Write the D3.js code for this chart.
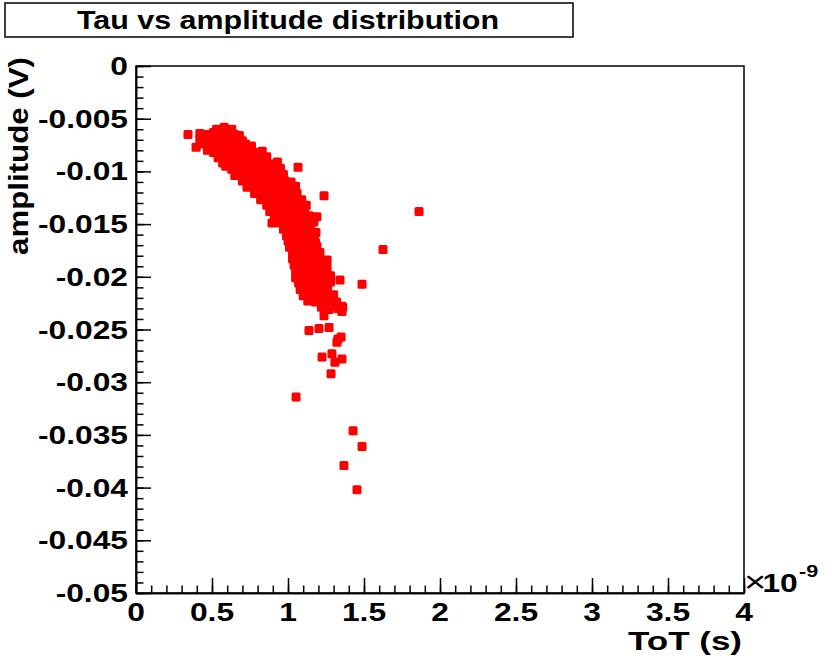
<!DOCTYPE html>
<html lang="en">
<head>
<meta charset="UTF-8">
<title>Tau vs amplitude distribution</title>
<script src="https://d3js.org/d3.v7.min.js"></script>
<style>
  body { margin: 0; background: #fff; }
  text { font-family: "Liberation Sans", Arial, sans-serif; font-weight: bold; fill: #000; }
</style>
</head>
<body>
<div id="chart"></div>
<script>
// ToT in units of 1e-9 s, amplitude in V
var bandPoints = [
  [0.53,-0.0060],[0.58,-0.0058],[0.63,-0.0060],
  [0.42,-0.0064],[0.47,-0.0065],[0.51,-0.0063],[0.56,-0.0064],[0.61,-0.0063],[0.65,-0.0065],[0.68,-0.0066],
  [0.42,-0.0070],[0.47,-0.0069],[0.51,-0.0068],[0.56,-0.0070],[0.61,-0.0069],[0.65,-0.0068],[0.70,-0.0071],
  [0.44,-0.0074],[0.49,-0.0076],[0.53,-0.0075],[0.58,-0.0074],[0.63,-0.0076],[0.67,-0.0075],[0.72,-0.0074],[0.76,-0.0076],
  [0.47,-0.0080],[0.51,-0.0082],[0.56,-0.0081],[0.61,-0.0080],[0.65,-0.0082],[0.70,-0.0081],[0.74,-0.0080],[0.79,-0.0082],[0.83,-0.0081],
  [0.54,-0.0087],[0.59,-0.0086],[0.63,-0.0085],[0.68,-0.0087],[0.72,-0.0086],[0.77,-0.0085],[0.82,-0.0087],[0.86,-0.0086],
  [0.57,-0.0092],[0.62,-0.0093],[0.67,-0.0091],[0.72,-0.0092],[0.76,-0.0093],[0.81,-0.0091],[0.86,-0.0092],[0.90,-0.0093],[0.93,-0.0091],
  [0.59,-0.0095],[0.63,-0.0098],[0.67,-0.0097],[0.72,-0.0099],[0.76,-0.0098],[0.81,-0.0097],[0.86,-0.0099],[0.90,-0.0098],[0.95,-0.0097],
  [0.65,-0.0104],[0.70,-0.0103],[0.74,-0.0102],[0.79,-0.0104],[0.84,-0.0103],[0.88,-0.0102],[0.93,-0.0104],[0.97,-0.0103],
  [0.70,-0.0109],[0.75,-0.0110],[0.80,-0.0108],[0.84,-0.0109],[0.89,-0.0110],[0.93,-0.0108],[0.98,-0.0109],[1.02,-0.0110],
  [0.73,-0.0115],[0.78,-0.0114],[0.82,-0.0116],[0.87,-0.0115],[0.91,-0.0114],[0.96,-0.0116],[1.01,-0.0115],[1.05,-0.0114],
  [0.78,-0.0121],[0.83,-0.0120],[0.88,-0.0122],[0.92,-0.0121],[0.97,-0.0120],[1.01,-0.0122],[1.06,-0.0121],
  [0.82,-0.0127],[0.86,-0.0126],[0.91,-0.0125],[0.95,-0.0127],[1.00,-0.0126],[1.05,-0.0125],[1.09,-0.0127],
  [0.86,-0.0132],[0.90,-0.0133],[0.95,-0.0131],[0.99,-0.0132],[1.04,-0.0133],[1.09,-0.0131],[1.12,-0.0132],
  [0.88,-0.0138],[0.93,-0.0137],[0.97,-0.0139],[1.02,-0.0138],[1.07,-0.0137],[1.11,-0.0139],
  [0.91,-0.0144],[0.96,-0.0143],[1.01,-0.0142],[1.05,-0.0144],[1.10,-0.0143],[1.14,-0.0142],
  [0.95,-0.0149],[0.99,-0.0150],[1.04,-0.0148],[1.09,-0.0149],[1.13,-0.0150],[1.17,-0.0148],
  [0.97,-0.0155],[1.01,-0.0154],[1.06,-0.0156],[1.10,-0.0155],[1.15,-0.0154],
  [0.99,-0.0161],[1.03,-0.0160],[1.07,-0.0159],[1.12,-0.0161],[1.17,-0.0160],
  [1.00,-0.0166],[1.05,-0.0167],[1.09,-0.0165],[1.14,-0.0166],[1.18,-0.0167],
  [1.01,-0.0172],[1.06,-0.0171],[1.10,-0.0173],[1.15,-0.0172],[1.19,-0.0171],
  [1.03,-0.0178],[1.07,-0.0177],[1.12,-0.0176],[1.16,-0.0178],[1.21,-0.0177],
  [1.03,-0.0183],[1.08,-0.0184],[1.12,-0.0182],[1.17,-0.0183],[1.22,-0.0184],
  [1.04,-0.0189],[1.09,-0.0188],[1.13,-0.0190],[1.18,-0.0189],[1.22,-0.0188],
  [1.05,-0.0195],[1.10,-0.0196],[1.14,-0.0194],[1.19,-0.0195],[1.24,-0.0196],
  [1.05,-0.0201],[1.10,-0.0200],[1.14,-0.0199],[1.19,-0.0201],[1.24,-0.0200],[1.28,-0.0199],
  [1.07,-0.0206],[1.11,-0.0207],[1.16,-0.0205],[1.20,-0.0206],[1.25,-0.0207],[1.28,-0.0205],
  [1.08,-0.0212],[1.13,-0.0211],[1.16,-0.0213],[1.21,-0.0212],[1.26,-0.0211],
  [1.10,-0.0218],[1.15,-0.0217],[1.20,-0.0216],[1.25,-0.0218],[1.30,-0.0217],
  [1.13,-0.0223],[1.18,-0.0224],[1.23,-0.0222],[1.28,-0.0223],[1.32,-0.0224],
  [1.22,-0.0229],[1.28,-0.0228],[1.33,-0.0230],[1.36,-0.0229]
];

var strayPoints = [
  [0.342,-0.0065],[0.395,-0.0077],[1.066,-0.0096],[0.895,-0.0149],[1.237,-0.0123],
  [1.862,-0.0138],[1.625,-0.0174],[1.342,-0.0203],[1.487,-0.0207],[1.190,-0.0143],
  [1.184,-0.0158],[1.257,-0.0184],[1.257,-0.0192],[1.289,-0.0219],[1.355,-0.0228],
  [1.355,-0.0233],[1.237,-0.0237],[1.270,-0.0231],[1.138,-0.0251],[1.204,-0.0249],
  [1.270,-0.0248],[1.329,-0.0259],[1.349,-0.0257],[1.322,-0.0262],[1.224,-0.0276],
  [1.289,-0.0273],[1.309,-0.0281],[1.355,-0.0278],[1.283,-0.0292],[1.053,-0.0314],
  [1.428,-0.0346],[1.487,-0.0361],[1.368,-0.0379],[1.454,-0.0402]
];

var xTickValues = [0, 0.5, 1, 1.5, 2, 2.5, 3, 3.5, 4];
var xTickLabels = ["0", "0.5", "1", "1.5", "2", "2.5", "3", "3.5", "4"];
var yTickValues = [0, -0.005, -0.01, -0.015, -0.02, -0.025, -0.03, -0.035, -0.04, -0.045, -0.05];
var yTickLabels = ["0", "-0.005", "-0.01", "-0.015", "-0.02", "-0.025", "-0.03", "-0.035", "-0.04", "-0.045", "-0.05"];

var width = 832, height = 662;
var margin = {top: 66, right: 88, bottom: 69, left: 136};
var stretch = 1.27;   // text in the picture is a bit wider than tall

var svg = d3.select("#chart").append("svg")
    .attr("width", width)
    .attr("height", height)
    .style("background", "#fff");

var x = d3.scaleLinear().domain([0, 4]).range([margin.left, width - margin.right]);
var y = d3.scaleLinear().domain([-0.05, 0]).range([height - margin.bottom, margin.top]);

// title box
svg.append("rect")
    .attr("x", 5).attr("y", 3).attr("width", 568).attr("height", 34)
    .attr("fill", "#fff").attr("stroke", "#000").attr("stroke-width", 1.5);
svg.append("text")
    .attr("x", 288).attr("y", 29)
    .attr("text-anchor", "middle")
    .attr("font-size", 25)
    .attr("textLength", 422)
    .attr("lengthAdjust", "spacingAndGlyphs")
    .text("Tau vs amplitude distribution");

// minor + major ticks
var xAxisG = svg.append("g").attr("transform", "translate(0," + y(-0.05) + ")");
xAxisG.call(d3.axisBottom(x).tickValues(d3.range(0, 4.001, 0.1)).tickSize(-7.5).tickSizeOuter(0).tickFormat(""));
xAxisG.append("g").call(d3.axisBottom(x).tickValues(xTickValues).tickSize(-15).tickSizeOuter(0).tickFormat(""));

var yAxisG = svg.append("g").attr("transform", "translate(" + x(0) + ",0)");
yAxisG.call(d3.axisLeft(y).tickValues(d3.range(-0.05, 0.0001, 0.001)).tickSize(-7.5).tickSizeOuter(0).tickFormat(""));
yAxisG.append("g").call(d3.axisLeft(y).tickValues(yTickValues).tickSize(-15).tickSizeOuter(0).tickFormat(""));

svg.selectAll(".tick line").attr("stroke", "#000").attr("stroke-width", 1.5);
svg.selectAll(".domain").attr("stroke", "#000").attr("stroke-width", 1.5);

// frame
svg.append("rect")
    .attr("x", x(0)).attr("y", y(0))
    .attr("width", x(4) - x(0)).attr("height", y(-0.05) - y(0))
    .attr("fill", "none").attr("stroke", "#000").attr("stroke-width", 1.5);

// tick labels
svg.selectAll(".xlab")
    .data(xTickValues)
    .enter().append("text")
    .attr("class", "xlab")
    .attr("text-anchor", "middle")
    .attr("font-size", 25)
    .attr("transform", function(d) { return "translate(" + x(d) + "," + (y(-0.05) + 28) + ") scale(" + stretch + ",1)"; })
    .text(function(d, i) { return xTickLabels[i]; });

svg.selectAll(".ylab")
    .data(yTickValues)
    .enter().append("text")
    .attr("class", "ylab")
    .attr("text-anchor", "end")
    .attr("font-size", 25)
    .attr("transform", function(d) { return "translate(" + (x(0) - 8) + "," + (y(d) + 9) + ") scale(" + stretch + ",1)"; })
    .text(function(d, i) { return yTickLabels[i]; });

// axis titles
svg.append("text")
    .attr("x", 742).attr("y", 650)
    .attr("text-anchor", "end")
    .attr("font-size", 25)
    .attr("textLength", 114)
    .attr("lengthAdjust", "spacingAndGlyphs")
    .text("ToT (s)");

svg.append("text")
    .attr("text-anchor", "middle")
    .attr("font-size", 25)
    .attr("textLength", 198)
    .attr("lengthAdjust", "spacingAndGlyphs")
    .attr("transform", "translate(28,156) rotate(-90) scale(1,1.12)")
    .text("amplitude (V)");

// exponent of the x axis, one text element
var expo = svg.append("text")
    .attr("transform", "translate(744,592) scale(" + stretch + ",1)");
expo.append("tspan")
    .attr("font-size", 30)
    .style("font-weight", "normal")
    .text("\u00d7");
expo.append("tspan")
    .attr("font-size", 25)
    .attr("dx", -3)
    .text("10");
expo.append("tspan")
    .attr("font-size", 17)
    .attr("dx", 1)
    .attr("dy", -15)
    .text("-9");

// data markers: small filled blocks like the ROOT marker
var allPoints = bandPoints.concat(strayPoints);
svg.append("g")
    .selectAll("rect")
    .data(allPoints)
    .enter().append("rect")
    .attr("x", function(d) { return x(d[0]) - 4.5; })
    .attr("y", function(d) { return y(d[1]) - 4.5; })
    .attr("width", 9)
    .attr("height", 9)
    .attr("rx", 1.5)
    .attr("fill", "#ff0000");
</script>
</body>
</html>
